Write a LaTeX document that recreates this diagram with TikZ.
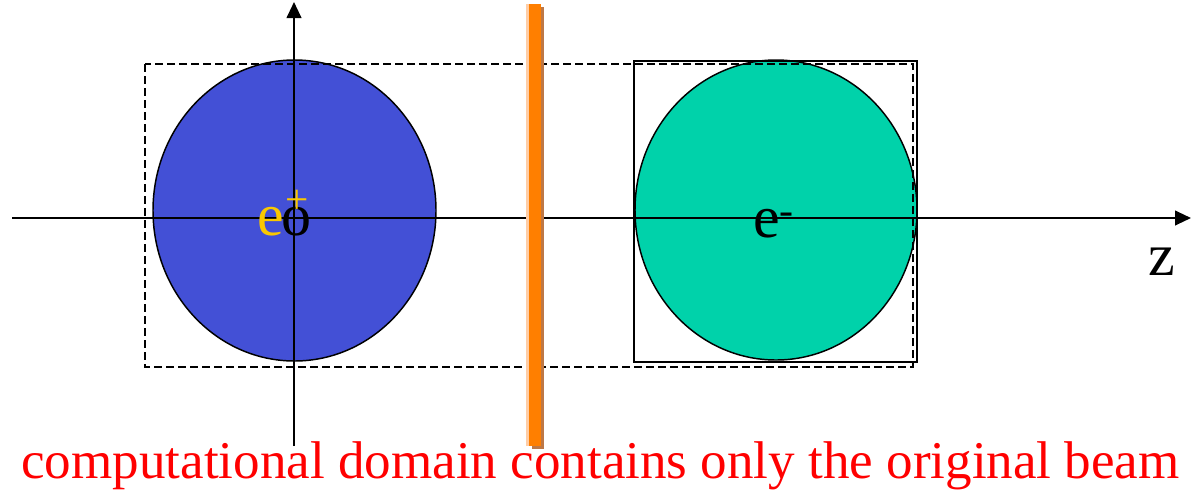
\documentclass[tikz,border=0pt]{standalone}
\usepackage{fontspec}
\newfontfamily\timesfont{LiberationSerif-Regular.ttf}
\usetikzlibrary{shapes.geometric,arrows.meta}
\definecolor{beamblue}{RGB}{67,80,214}
\definecolor{beamgreen}{RGB}{0,210,170}
\definecolor{posyellow}{RGB}{250,200,0}
\definecolor{barorange}{RGB}{255,127,0}
\definecolor{barshadow}{RGB}{190,120,70}
\definecolor{barhalo}{RGB}{255,205,165}
\tikzset{
  axis/.style={line width=1.5pt,-{Triangle[width=11pt,length=12pt]}},
  beam/.style={ellipse,draw=black,line width=1.1pt,inner sep=0pt},
  domainbox/.style={line width=1.3pt,dash pattern=on 6pt off 3pt},
  solidbox/.style={line width=1.3pt},
  biglabel/.style={inner sep=0pt,font=\timesfont\fontsize{45}{45}\selectfont},
  caption/.style={inner sep=0pt,text=red,font=\timesfont\fontsize{39.8}{40}\selectfont}
}
\begin{document}
\begin{tikzpicture}[x=0.75pt,y=-0.75pt]
\useasboundingbox (0,0) rectangle (1191,490);
% beams
\node[beam,fill=beamblue,minimum width=283*0.75pt,minimum height=301*0.75pt] (pos) at (294.5,210.5) {};
\node[beam,fill=beamgreen,minimum width=282*0.75pt,minimum height=300*0.75pt] (ele) at (776,210) {};
% boxes
\draw[solidbox] (634,61) rectangle (917,362);
\draw[domainbox] (145,64) rectangle (913,367);
% axes
\coordinate (zstart) at (12,218);
\coordinate (zend) at (1191,218);
\coordinate (xstart) at (294,446);
\coordinate (xend) at (294,2);
\draw[axis] (zstart) -- (zend);
\draw[axis] (xstart) -- (xend);
% orange bar
\fill[barhalo] (526,4) rectangle (530,446);
\fill[barshadow] (532,7) rectangle (544,449);
\fill[barorange] (529,4) rectangle (541,446);
% labels
\node[biglabel,text=posyellow,anchor=base west] (epos) at (257,235) {e};
\node[biglabel,anchor=base west] (orig) at (281,235) {o};
\node[inner sep=0pt,text=posyellow,font=\timesfont\fontsize{31}{31}\selectfont] (plus) at (297.5,202) {+};
\node[biglabel,anchor=base west] (elab) at (753,237) {e\textsuperscript{-}};
\node[biglabel,anchor=base west] (zlab) at (1148,275) {z};
\node[caption,anchor=base west] (cap) at (21,478) {computational domain contains only the original beam};
\end{tikzpicture}
\end{document}
